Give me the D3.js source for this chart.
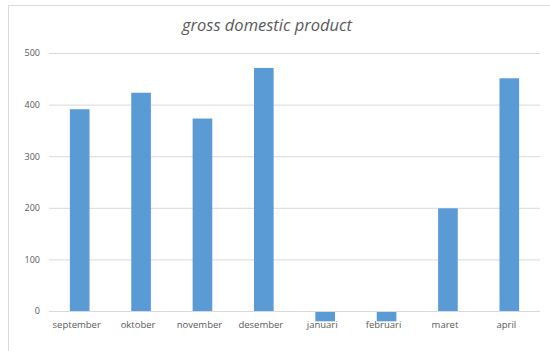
<!DOCTYPE html>
<html><head><meta charset="utf-8">
<script src="https://cdn.jsdelivr.net/npm/d3@7"></script>
<style>body{margin:0;background:#fff}svg{display:block}</style>
</head><body>
<script>
const categories = ["september","oktober","november","desember","januari","februari","maret","april"];
const values = [391, 423, 373, 471, -20, -20, 199, 451];
const yTicks = [0, 100, 200, 300, 400, 500];
const title = "gross domestic product";

(function () {
const W = 550, H = 351;
const svg = d3.select("body").append("svg").attr("width", W).attr("height", H);
svg.append("rect").attr("x", 8.5).attr("y", 5.5).attr("width", 560).attr("height", 360)
  .attr("fill", "#fff").attr("stroke", "#d9d9d9");

const mLeft = 49, mRight = 540, mTop = 53, zeroY = 311;
const y = d3.scaleLinear().domain([0, 500]).range([zeroY, mTop]);
const x = d3.scaleBand().domain(categories).range([mLeft, mRight]).paddingInner(0.68).paddingOuter(0.34);

const gy = svg.append("g").attr("transform", `translate(${mLeft},0)`)
  .call(d3.axisLeft(y).tickValues(yTicks).tickSize(-(mRight - mLeft)).tickPadding(9));
gy.select(".domain").remove();
gy.selectAll(".tick line").attr("stroke", "#d9d9d9");
gy.selectAll(".tick text").attr("fill", "#595959").attr("font-size", 9).attr("font-family", "Open Sans, sans-serif");

svg.append("g").selectAll("rect").data(values).join("rect")
  .attr("x", (d, i) => x(categories[i]))
  .attr("width", x.bandwidth())
  .attr("y", d => y(Math.max(0, d)))
  .attr("height", d => Math.abs(y(d) - y(0)))
  .attr("fill", "#5b9bd5");

const gx = svg.append("g").attr("transform", `translate(0,${zeroY})`)
  .call(d3.axisBottom(x).tickSize(0).tickPadding(10));
gx.select(".domain").attr("stroke", "#d9d9d9").attr("d", `M${mLeft},0.5H${mRight}`);
gx.selectAll(".tick text").attr("fill", "#595959").attr("font-size", 9.5).attr("font-family", "Open Sans, sans-serif")
  .attr("dx", -3);

svg.append("text").attr("x", 267).attr("y", 31).attr("text-anchor", "middle")
  .attr("font-size", 16.5).attr("font-style", "italic").attr("fill", "#595959")
  .attr("font-family", "Open Sans, sans-serif").text(title);
})();
</script>
</body></html>
